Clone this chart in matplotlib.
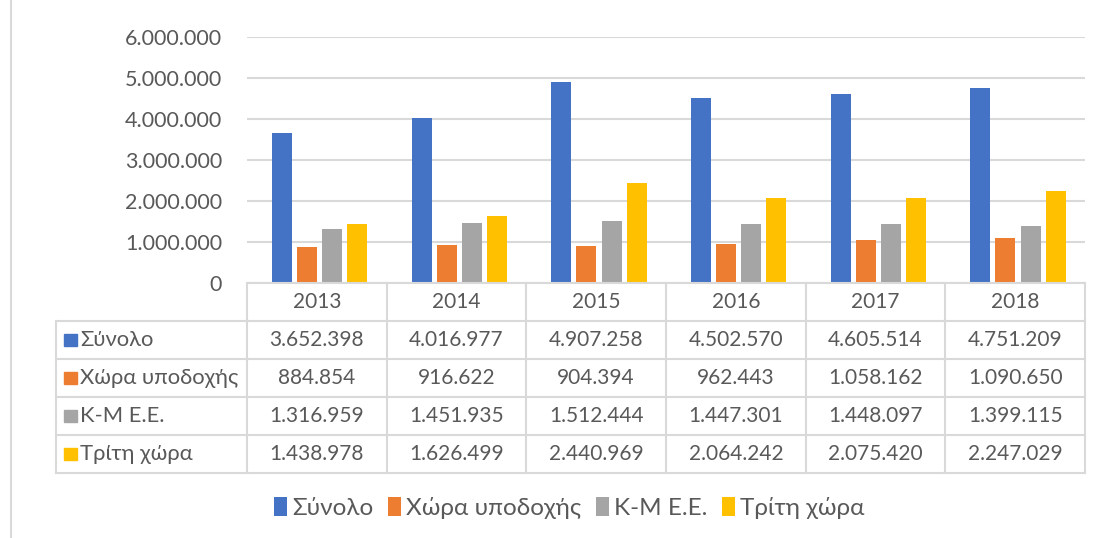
import matplotlib
matplotlib.use('Agg')
import matplotlib.pyplot as plt
from matplotlib.patches import Patch
from matplotlib.lines import Line2D
from matplotlib.ticker import FuncFormatter

plt.rcParams['font.family'] = ['Lato', 'DejaVu Sans']

# data
years = ['2013', '2014', '2015', '2016', '2017', '2018']
series_names = ['Σύνολο', 'Χώρα υποδοχής', 'Κ-Μ Ε.Ε.', 'Τρίτη χώρα']
synolo = [3652398, 4016977, 4907258, 4502570, 4605514, 4751209]
xora_ypodoxis = [884854, 916622, 904394, 962443, 1058162, 1090650]
km_ee = [1316959, 1451935, 1512444, 1447301, 1448097, 1399115]
triti_xora = [1438978, 1626499, 2440969, 2064242, 2075420, 2247029]
series = [synolo, xora_ypodoxis, km_ee, triti_xora]
colors = ['#4472C4', '#ED7D31', '#A5A5A5', '#FFC000']

W, H = 1105, 538
TXT = '#595959'
GRID = '#D9D9D9'
FS = 15


def dots(v):
    return f'{int(v):,}'.replace(',', '.')


fig = plt.figure(figsize=(W / 100, H / 100), dpi=100)

# plot area in pixels
px_l, px_r, px_top, px_bot = 247, 1085, 37, 283
ax = fig.add_axes([px_l / W, 1 - px_bot / H, (px_r - px_l) / W, (px_bot - px_top) / H])

n = len(years)
bw = 0.143
step = 0.18
for i, (vals, c) in enumerate(zip(series, colors)):
    xs = [k + (i - 1.5) * step + 0.02 for k in range(n)]
    ax.bar(xs, vals, width=bw, color=c, zorder=3)

ax.set_xlim(-0.5, n - 0.5)
ax.set_ylim(0, 6000000)
ax.set_yticks(range(0, 6000001, 1000000))
ax.yaxis.set_major_formatter(FuncFormatter(lambda v, p: dots(v)))
ax.tick_params(axis='y', length=0, labelsize=FS + 0.5, labelcolor=TXT, pad=18)
ax.set_xticks([])
ax.grid(axis='y', color=GRID, lw=1.5, zorder=0)
for s in ax.spines.values():
    s.set_visible(False)

# data table below the plot
t_l, t_bot = 56, 473
col_w = (px_r - px_l) / n
left_units = (px_l - t_l) / col_w
tax = fig.add_axes([t_l / W, 1 - t_bot / H, (px_r - t_l) / W, (t_bot - px_bot) / H])
tax.set_xlim(-0.5 - left_units, n - 0.5)
tax.set_ylim(len(series), -1)
tax.axis('off')

lkw = dict(color=GRID, lw=1.5, clip_on=False)
x0 = -0.5 - left_units
tax.plot([-0.5, n - 0.5], [-1, -1], **lkw)
for r in range(len(series) + 1):
    tax.plot([x0, n - 0.5], [r, r], **lkw)
tax.plot([x0, x0], [0, len(series)], **lkw)
for k in range(n + 1):
    tax.plot([k - 0.5, k - 0.5], [-1, len(series)], **lkw)

for k, y in enumerate(years):
    tax.text(k, -0.5, y, ha='center', va='center', fontsize=FS, color=TXT)

for r, (name, vals, c) in enumerate(zip(series_names, series, colors)):
    tax.add_patch(plt.Rectangle((x0 + 0.06, r + 0.33), 0.09, 0.34, color=c, clip_on=False))
    tax.text(x0 + 0.175, r + 0.5, name, ha='left', va='center', fontsize=FS + 0.8, color=TXT)
    for k, v in enumerate(vals):
        tax.text(k, r + 0.5, dots(v), ha='center', va='center', fontsize=FS, color=TXT)

# legend
handles = [Patch(facecolor=c, edgecolor='none') for c in colors]
fig.legend(handles, series_names, loc='center', bbox_to_anchor=(569 / W, 1 - 508 / H),
           ncol=4, frameon=False, fontsize=FS + 2.5, labelcolor=TXT,
           handlelength=0.55, handleheight=0.8, handletextpad=0.2, columnspacing=0.6)

# chart frame on the left
fig.add_artist(Line2D([11 / W, 11 / W], [0, 1], color=GRID, lw=1.5))

fig.savefig('out.png', dpi=100)
